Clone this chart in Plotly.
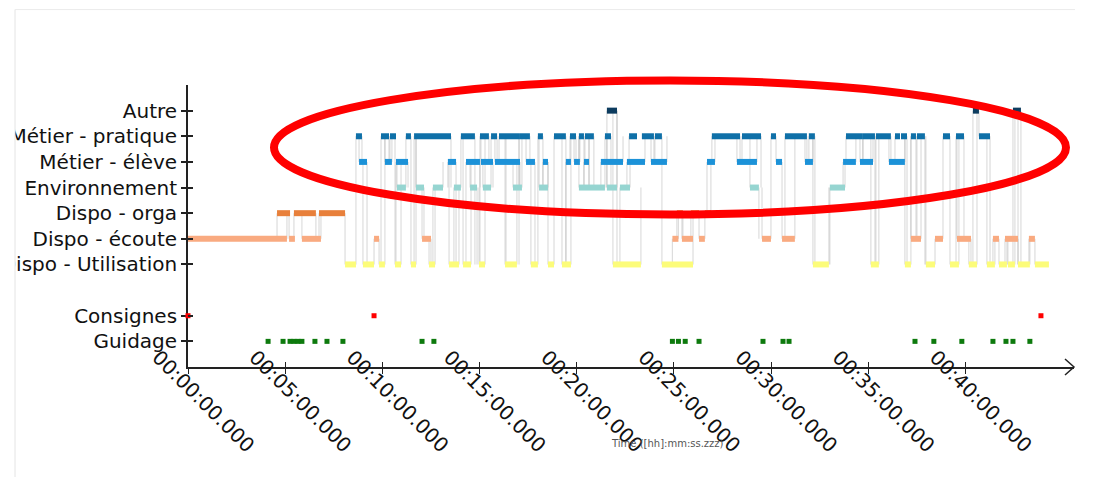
import plotly.graph_objects as go

# ---------------- data (times in minutes) ----------------
labels = ["Guidage", "Consignes", "Dispo - Utilisation", "Dispo - écoute",
          "Dispo - orga", "Environnement", "Métier - élève", "Métier - pratique", "Autre"]

autre = [(21.55, 22.07), (40.38, 40.69), (42.44, 42.85)]

metier_pratique = [(8.64, 8.95), (9.93, 10.34), (10.39, 10.70), (11.21, 11.47), (11.63, 13.53),
                   (14.04, 14.76), (15.02, 15.48), (15.59, 15.90), (16.00, 17.03), (17.03, 17.59),
                   (18.00, 18.26), (18.83, 19.44), (19.65, 19.96), (20.11, 20.37), (20.42, 20.88),
                   (21.45, 21.76), (22.69, 23.10), (23.35, 23.97), (24.02, 24.38), (26.95, 28.40),
                   (28.50, 29.48), (29.99, 30.25), (30.71, 31.84), (31.94, 32.25), (33.85, 34.72),
                   (34.72, 35.34), (35.39, 36.16), (36.37, 36.63), (36.68, 36.99), (37.19, 37.45),
                   (37.50, 37.91), (38.84, 39.20), (39.51, 39.92), (40.69, 41.26)]

metier_eleve = [(8.80, 9.21), (10.13, 10.49), (10.70, 11.32), (13.37, 13.79), (14.30, 15.02),
                (15.07, 15.69), (15.79, 16.36), (16.36, 17.08), (17.39, 17.85), (18.26, 18.52),
                (19.44, 19.70), (19.86, 20.16), (20.37, 20.63), (21.24, 22.38), (22.58, 23.51),
                (23.82, 24.64), (26.70, 27.11), (28.24, 29.27), (30.25, 30.56), (31.74, 32.15),
                (33.70, 34.36), (34.57, 35.24), (36.06, 36.88)]

environnement = [(10.75, 11.21), (11.73, 12.14), (12.60, 13.12), (13.68, 14.04), (14.51, 14.87),
                 (15.17, 15.59), (16.72, 17.18), (18.06, 18.52), (20.11, 20.63), (20.63, 21.45),
                 (21.55, 22.07), (22.22, 22.74), (28.91, 29.37), (33.02, 33.80)]

dispo_orga = [(4.58, 5.25), (5.45, 6.58), (6.74, 8.08), (25.15, 25.46), (25.87, 26.29), (26.59, 26.90)]

dispo_ecoute = [(0.00, 5.09), (5.20, 5.50), (5.86, 6.84), (9.57, 9.83), (12.04, 12.50),
                (24.92, 25.23), (25.41, 25.98), (26.29, 26.59), (29.53, 29.99), (30.56, 31.22),
                (37.19, 37.71), (38.43, 38.84), (39.56, 40.28), (41.41, 41.72), (42.03, 42.70),
                (43.26, 43.57)]

dispo_utilisation = [(8.08, 8.64), (9.00, 9.57), (9.83, 10.13), (10.65, 10.96), (11.47, 11.73),
                     (12.40, 12.71), (13.43, 13.94), (14.15, 14.56), (14.97, 15.28), (16.31, 16.92),
                     (17.64, 18.00), (18.52, 18.83), (19.24, 19.70), (21.86, 23.30), (24.38, 25.98),
                     (32.15, 32.97), (35.13, 35.54), (36.88, 37.19), (37.96, 38.43), (39.20, 39.66),
                     (40.17, 40.59), (41.10, 41.51), (41.72, 42.13), (42.18, 42.54), (42.70, 43.31),
                     (43.57, 44.29)]

guidage = [4.12, 4.89, 5.25, 5.45, 5.66, 5.86, 6.53, 7.15, 7.97, 12.04, 12.65, 24.92, 25.23,
           25.58, 26.29, 29.58, 30.61, 30.92, 37.40, 38.37, 39.81, 41.41, 42.08, 42.44, 43.31]

consignes = [0.00, 9.57, 43.88]

x_tick_minutes = [0, 5, 10, 15, 20, 25, 30, 35, 40]
x_tick_labels = ["00:00:00.000", "00:05:00.000", "00:10:00.000", "00:15:00.000", "00:20:00.000",
                 "00:25:00.000", "00:30:00.000", "00:35:00.000", "00:40:00.000"]
x_title = "Time ([hh]:mm:ss.zzz)"

# ---------------- styling ----------------
FONT = "DejaVu Sans"
OFF = 8                      # default page body margin
W, H = 1110 - OFF, 477 - OFF
L, T = 188 - OFF, 84.5 - OFF
R = W - (1074 - OFF)
B = H - (366.7 - OFF)
XMAX = 45.58
YMIN, YMAX = -1, 10

colors = {
    "Autre": "#0d3c5f",
    "Métier - pratique": "#0f70a8",
    "Métier - élève": "#1c92d8",
    "Environnement": "#96d5d1",
    "Dispo - orga": "#e8803b",
    "Dispo - écoute": "#f9aa80",
    "Dispo - Utilisation": "#fcfc7a",
    "Consignes": "#ff0000",
    "Guidage": "#0d7a0d",
}

ypos = {lab: i + (1 if i >= 2 else 0) for i, lab in enumerate(labels)}

series = {
    "Dispo - Utilisation": dispo_utilisation,
    "Dispo - écoute": dispo_ecoute,
    "Dispo - orga": dispo_orga,
    "Environnement": environnement,
    "Métier - élève": metier_eleve,
    "Métier - pratique": metier_pratique,
    "Autre": autre,
}

fig = go.Figure()

# transition connectors
allseg = sorted([(s, e, ypos[k]) for k, v in series.items() for (s, e) in v])
cx, cy = [], []
for a, b in zip(allseg[:-1], allseg[1:]):
    cx += [b[0], b[0], None]
    cy += [a[2], b[2], None]
    if abs(a[1] - b[0]) > 0.05:
        cx += [a[1], a[1], None]
        cy += [a[2], b[2], None]
fig.add_trace(go.Scatter(x=cx, y=cy, mode="lines", hoverinfo="skip",
                         line=dict(color="rgba(170,170,170,0.4)", width=1.2), showlegend=False))

for k, v in series.items():
    xs, ys = [], []
    for s, e in v:
        xs += [s, e, None]
        ys += [ypos[k], ypos[k], None]
    fig.add_trace(go.Scatter(x=xs, y=ys, mode="lines", name=k, showlegend=False,
                             line=dict(color=colors[k], width=6)))

fig.add_trace(go.Scatter(x=guidage, y=[ypos["Guidage"]] * len(guidage), mode="markers",
                         marker=dict(symbol="square", size=5, color=colors["Guidage"]),
                         showlegend=False, name="Guidage"))
fig.add_trace(go.Scatter(x=consignes, y=[ypos["Consignes"]] * len(consignes), mode="markers",
                         marker=dict(symbol="square", size=5, color=colors["Consignes"]),
                         showlegend=False, name="Consignes", cliponaxis=False))
# dummy trace for overlay axes (inside ticks)
fig.add_trace(go.Scatter(x=[None], y=[None], xaxis="x2", yaxis="y2", showlegend=False))

tickvals_y = [ypos[l] for l in labels]
axcol = "#222222"

fig.update_layout(
    width=W, height=H,
    margin=dict(l=L, r=R, t=T, b=B, autoexpand=False),
    paper_bgcolor="white", plot_bgcolor="white",
    font=dict(family=FONT, size=20, color="#111111"),
    xaxis=dict(range=[0, XMAX], showgrid=False, zeroline=False, showline=True, automargin=False,
               linecolor=axcol, linewidth=1.5, tickvals=x_tick_minutes, ticktext=x_tick_labels,
               ticks="outside", ticklen=5, tickcolor=axcol, tickwidth=1.2, tickangle=45,
               ticklabelshift=-30, ticklabelstandoff=-36,
               tickfont=dict(family=FONT, size=20, color="#111111"), layer="below traces"),
    yaxis=dict(range=[YMIN, YMAX], showgrid=False, zeroline=False, showline=True, automargin=False,
               linecolor=axcol, linewidth=1.8, tickvals=tickvals_y, ticktext=labels,
               ticks="outside", ticklen=5, tickcolor=axcol, tickwidth=1.5,
               tickfont=dict(family=FONT, size=20, color="#111111"), layer="below traces"),
    xaxis2=dict(range=[0, XMAX], overlaying="x", anchor="y", showgrid=False, zeroline=False,
                showline=False, tickvals=x_tick_minutes, ticks="inside", ticklen=5, automargin=False,
                tickcolor=axcol, tickwidth=1.2, showticklabels=False),
    yaxis2=dict(range=[YMIN, YMAX], overlaying="y", anchor="x", showgrid=False, zeroline=False,
                showline=False, tickvals=tickvals_y, ticks="inside", ticklen=5, automargin=False,
                tickcolor=axcol, tickwidth=1.5, showticklabels=False),
)

PW = W - L - R
PH = H - T - B
def px_x(p):          # page pixel -> paper fraction
    return (p - OFF - L) / PW
def px_y(p):
    return (H - B - (p - OFF)) / PH

# axis arrowhead
fig.add_shape(type="path", xref="paper", yref="paper", xsizemode="pixel", ysizemode="pixel",
              xanchor=1, yanchor=0, path="M -9,8 L 0,0 L -9,-8",
              line=dict(color=axcol, width=1.5), layer="above")

# axis title
fig.add_annotation(text=x_title, xref="paper", yref="paper", x=px_x(667), y=px_y(451),
                   showarrow=False, font=dict(family=FONT, size=10, color="#555555"))

# clipping container edge + frame lines
fig.add_shape(type="rect", xref="paper", yref="paper", x0=px_x(-2), x1=px_x(15),
              y0=px_y(H + 20), y1=px_y(-5), fillcolor="white", line=dict(width=0), layer="above")
fig.add_shape(type="line", xref="paper", yref="paper", x0=px_x(15), x1=px_x(15),
              y0=px_y(477), y1=px_y(9), line=dict(color="#e4e4e4", width=1), layer="above")
fig.add_shape(type="line", xref="paper", yref="paper", x0=px_x(15), x1=px_x(1075),
              y0=px_y(9), y1=px_y(9), line=dict(color="#ececec", width=1), layer="above")

# red highlight ellipse
fig.add_shape(type="circle", xref="paper", yref="paper", x0=px_x(274), x1=px_x(1066),
              y0=px_y(214), y1=px_y(80), line=dict(color="#ff0000", width=8), layer="above")

fig.write_html("out.html")
